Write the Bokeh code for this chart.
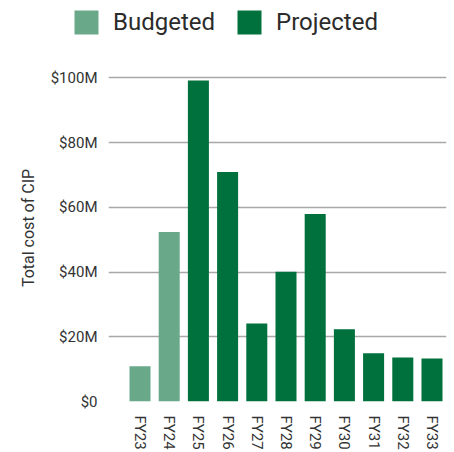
from bokeh.plotting import figure
from bokeh.layouts import column
from bokeh.models import ColumnDataSource, FixedTicker, Range1d, Legend, LegendItem
from bokeh.embed import file_html
from bokeh.resources import INLINE

years = ["FY23", "FY24", "FY25", "FY26", "FY27", "FY28", "FY29", "FY30", "FY31", "FY32", "FY33"]
costs_m = [10.9, 52.4, 99.2, 70.9, 24.1, 40.1, 57.9, 22.3, 14.9, 13.6, 13.3]
status = ["Budgeted", "Budgeted", "Projected", "Projected", "Projected", "Projected",
          "Projected", "Projected", "Projected", "Projected", "Projected"]
series = ["Budgeted", "Projected"]
y_ticks = [0, 20, 40, 60, 80, 100]
y_tick_labels = ["$0", "$20M", "$40M", "$60M", "$80M", "$100M"]
y_title = "Total cost of CIP"

colors = {"Budgeted": "#6AA88A", "Projected": "#00713D"}
FONT = "Roboto"

# ---- legend strip ----
pl = figure(width=454, height=44, output_backend="svg", toolbar_location=None,
            x_range=Range1d(0, 1), y_range=Range1d(0, 1),
            x_axis_type=None, y_axis_type=None,
            min_border_left=0, min_border_right=0, min_border_top=0, min_border_bottom=0)
if "frame_align" in pl.properties():
    pl.frame_align = False
pl.outline_line_color = None
pl.xgrid.grid_line_color = None
pl.ygrid.grid_line_color = None
leg_items = []
for s in series:
    # zero-height placeholder bar: only its legend swatch is visible
    r = pl.vbar(x=[0.5], top=[0], bottom=[0], width=0.01, fill_color=colors[s], line_color=None)
    leg_items.append(LegendItem(label=s, renderers=[r]))
legend = Legend(items=leg_items, orientation="horizontal", location=(71, 7),
                glyph_width=30, glyph_height=30, label_standoff=12, spacing=19,
                padding=0, margin=0, border_line_color=None, background_fill_alpha=0,
                label_text_font=FONT, label_text_font_size="24px", label_text_color="#2b2b2b")
pl.add_layout(legend, "center")

# ---- main chart ----
p = figure(width=454, height=408, output_backend="svg", toolbar_location=None,
           x_range=Range1d(-1.079, 10.497), y_range=Range1d(0, 107.2),
           min_border_left=108, min_border_right=8, min_border_top=10, min_border_bottom=50)
if "frame_align" in p.properties():
    p.frame_align = False
p.outline_line_color = None
p.background_fill_color = "white"
p.border_fill_color = "white"

for s in series:
    idx = [i for i, st in enumerate(status) if st == s]
    src = ColumnDataSource(dict(x=idx, top=[costs_m[i] for i in idx]))
    p.vbar(x="x", top="top", width=0.72, bottom=0, source=src,
           fill_color=colors[s], line_color=None)

# x axis
p.xaxis.ticker = FixedTicker(ticks=list(range(len(years))))
p.xaxis.major_label_overrides = {i: y for i, y in enumerate(years)}
p.xaxis.major_label_orientation = "vertical"
p.xaxis.axis_line_color = None
p.xaxis.major_tick_line_color = None
p.xaxis.minor_tick_line_color = None
p.xaxis.major_label_text_font = FONT
p.xaxis.major_label_text_font_size = "15px"
p.xaxis.major_label_text_color = "#333333"
p.xaxis.major_label_standoff = 8
p.xgrid.grid_line_color = None

# y axis
p.yaxis.ticker = FixedTicker(ticks=y_ticks)
p.yaxis.major_label_overrides = {t: l for t, l in zip(y_ticks, y_tick_labels)}
p.yaxis.axis_line_color = None
p.yaxis.major_tick_line_color = None
p.yaxis.minor_tick_line_color = None
p.yaxis.major_label_text_font = FONT
p.yaxis.major_label_text_font_size = "15px"
p.yaxis.major_label_text_color = "#333333"
p.yaxis.major_label_standoff = 5
p.yaxis.axis_label = y_title
p.yaxis.axis_label_text_font = FONT
p.yaxis.axis_label_text_font_size = "16px"
p.yaxis.axis_label_text_font_style = "normal"
p.yaxis.axis_label_text_color = "#333333"
p.yaxis.axis_label_standoff = 10
p.ygrid.grid_line_color = "#a8a8a8"
p.ygrid.grid_line_width = 1.5

layout = column(pl, p, spacing=0)
open("out.html", "w").write(file_html(layout, INLINE))
